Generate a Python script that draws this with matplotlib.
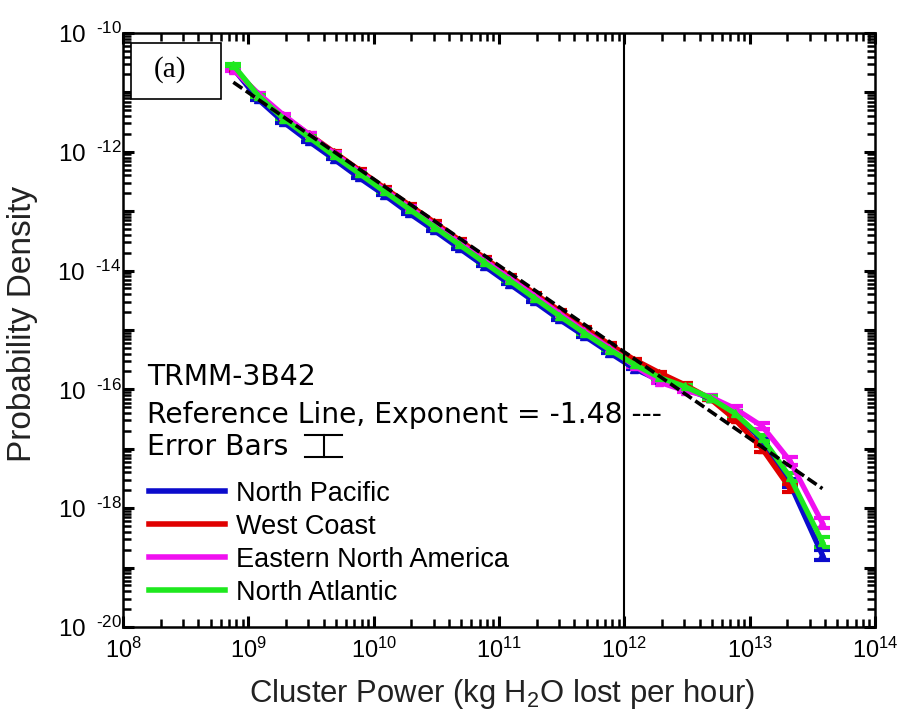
import matplotlib
matplotlib.use('Agg')
import matplotlib.pyplot as plt
from matplotlib.lines import Line2D
from matplotlib.patches import Rectangle
from matplotlib.ticker import FixedLocator, FixedFormatter, NullFormatter, FuncFormatter
import numpy as np

plt.rcParams['font.family'] = 'Liberation Sans'
plt.rcParams['mathtext.fontset'] = 'custom'
plt.rcParams['mathtext.rm'] = 'Liberation Sans'

# log10 of cluster power (bin centres)
power_exp = [8.88, 9.08, 9.28, 9.48, 9.68, 9.88, 10.08, 10.28, 10.48, 10.68, 10.88, 11.08,
             11.28, 11.48, 11.68, 11.88, 12.08, 12.28, 12.48, 12.68, 12.88, 13.10, 13.32, 13.58]

# log10 of probability density per region
pacific = [-10.60, -11.12, -11.50, -11.82, -12.12, -12.43, -12.72, -13.03, -13.32, -13.62, -13.92, -14.22,
           -14.52, -14.82, -15.10, -15.38, -15.65, -15.85, -15.98, -16.15, -16.40, -16.86, -17.58, -18.79]
west = [-10.58, -11.04, -11.40, -11.70, -12.00, -12.30, -12.60, -12.89, -13.18, -13.48, -13.78, -14.08,
        -14.38, -14.67, -14.96, -15.24, -15.50, -15.72, -15.92, -16.15, -16.50, -17.00, -17.66]
eastern = [-10.62, -11.02, -11.38, -11.70, -12.02, -12.33, -12.63, -12.93, -13.22, -13.52, -13.82, -14.12,
           -14.42, -14.72, -15.02, -15.30, -15.60, -15.88, -16.02, -16.12, -16.32, -16.62, -17.20, -18.25]
atlantic = [-10.54, -11.06, -11.44, -11.75, -12.06, -12.36, -12.66, -12.96, -13.26, -13.56, -13.86, -14.16,
            -14.46, -14.76, -15.05, -15.33, -15.58, -15.80, -15.95, -16.14, -16.40, -16.82, -17.47, -18.57]

# error bar half-widths (decades)
err_dex = [0.02, 0.01, 0.01, 0.01, 0.01, 0.01, 0.01, 0.01, 0.01, 0.01, 0.01, 0.01,
           0.01, 0.01, 0.01, 0.015, 0.015, 0.02, 0.02, 0.03, 0.04, 0.05, 0.07, 0.09]

# reference power law line (ends)
ref_exp_x = [8.88, 13.58]
ref_exp_y = [-10.83, -17.67]

x_tick_exp = [8, 9, 10, 11, 12, 13, 14]
y_tick_exp = [-20, -19, -18, -17, -16, -15, -14, -13, -12, -11, -10]

series_names = ['North Pacific', 'West Coast', 'Eastern North America', 'North Atlantic']
series_vals = [pacific, west, eastern, atlantic]
series_colors = ['#0b0bcc', '#e00000', '#f010f0', '#1ee81e']

fig = plt.figure(figsize=(9.08, 7.23), dpi=100)
ax = fig.add_axes([0.1355, 0.1328, 0.8282, 0.8216])
ax.set_xscale('log')
ax.set_yscale('log')

for vals, c in zip(series_vals, series_colors):
    n = len(vals)
    x = 10.0 ** np.array(power_exp[:n])
    y = 10.0 ** np.array(vals)
    e = np.array(err_dex[:n])
    ax.errorbar(x, y, yerr=[y * (1 - 10.0 ** -e), y * (10.0 ** e - 1)], color=c, lw=3.8,
                marker='^', ms=6, capsize=5.5, capthick=3, elinewidth=3, zorder=2)

ax.plot(10.0 ** np.array(ref_exp_x), 10.0 ** np.array(ref_exp_y), color='k', lw=2.6,
        ls='--', dashes=(3, 1.2), zorder=3)
ax.axvline(1e12, color='k', lw=1.5, zorder=4)

ax.set_xlim(1e8, 1e14)
ax.set_ylim(1e-20, 1e-10)

sub = [2, 3, 4, 5, 6, 7, 8, 9]
ax.xaxis.set_major_locator(FixedLocator([10.0 ** k for k in x_tick_exp]))
ax.xaxis.set_major_formatter(FixedFormatter([r'$\mathregular{10^{%d}}$' % k for k in x_tick_exp]))
ax.xaxis.set_minor_locator(FixedLocator([m * 10.0 ** k for k in x_tick_exp[:-1] for m in sub]))
ax.xaxis.set_minor_formatter(NullFormatter())


def ylab(v, p):
    k = int(round(np.log10(v)))
    if k % 2:
        return ''
    return r'$\mathregular{10^{\ \ %s}}$' % str(k).replace('-', '\u2010')


ax.yaxis.set_major_locator(FixedLocator([10.0 ** k for k in y_tick_exp]))
ax.yaxis.set_major_formatter(FuncFormatter(ylab))
ax.yaxis.set_minor_locator(FixedLocator([m * 10.0 ** k for k in y_tick_exp[:-1] for m in sub]))
ax.yaxis.set_minor_formatter(NullFormatter())

ax.tick_params(which='both', direction='in', top=True, right=True, bottom=True, left=True,
               color='k')
ax.tick_params(which='major', length=8, width=2.2)
ax.tick_params(which='minor', length=5.5, width=1.8)
ax.tick_params(axis='x', labelsize=17, pad=8)
ax.tick_params(axis='y', labelsize=17.5, pad=1)
for s in ax.spines.values():
    s.set_linewidth(1.8)

ax.set_xlabel('Cluster Power (kg H$\\mathregular{_2}$O lost per hour)', fontsize=22.3, color='#222')
ax.xaxis.set_label_coords(0.504, -0.084)
ax.set_ylabel('Probability Density', fontsize=24, color='#222')
ax.yaxis.set_label_coords(-0.113, 0.51)

# panel label
ax.add_patch(Rectangle((0.0106, 0.889), 0.1197, 0.0943, transform=ax.transAxes,
                       facecolor='white', edgecolor='k', lw=1.2, zorder=5))
ax.text(0.0625, 0.938, '(a)', transform=ax.transAxes, ha='center', va='center',
        family='Liberation Serif', fontsize=21, zorder=6)

# annotations
txt = dict(transform=ax.transAxes, family='DejaVu Sans', fontsize=20.3, va='baseline', zorder=6)
ax.text(0.032, 0.4074, 'TRMM-3B42', **txt)
ax.text(0.032, 0.3434, 'Reference Line, Exponent = -1.48 ---', **txt)
ax.text(0.032, 0.2896, 'Error Bars', **txt)
# little error bar glyph
xc, hw, yt, yb = 0.2666, 0.0246, 0.3232, 0.2862
ax.plot([xc - hw, xc + hw], [yt, yt], color='k', lw=1.5, transform=ax.transAxes)
ax.plot([xc - hw, xc + hw], [yb, yb], color='k', lw=1.5, transform=ax.transAxes)
ax.plot([xc, xc], [yb, yt], color='k', lw=1.5, transform=ax.transAxes)

handles = [Line2D([], [], color=c, lw=4) for c in series_colors]
ax.legend(handles, series_names, loc='center left', bbox_to_anchor=(0.0346, 0.141),
          frameon=False, prop={'family': 'Liberation Sans', 'size': 19.5}, handlelength=2.8,
          handletextpad=0.4, labelspacing=0.26, borderpad=0, borderaxespad=0)

fig.savefig('out.png', dpi=100)
